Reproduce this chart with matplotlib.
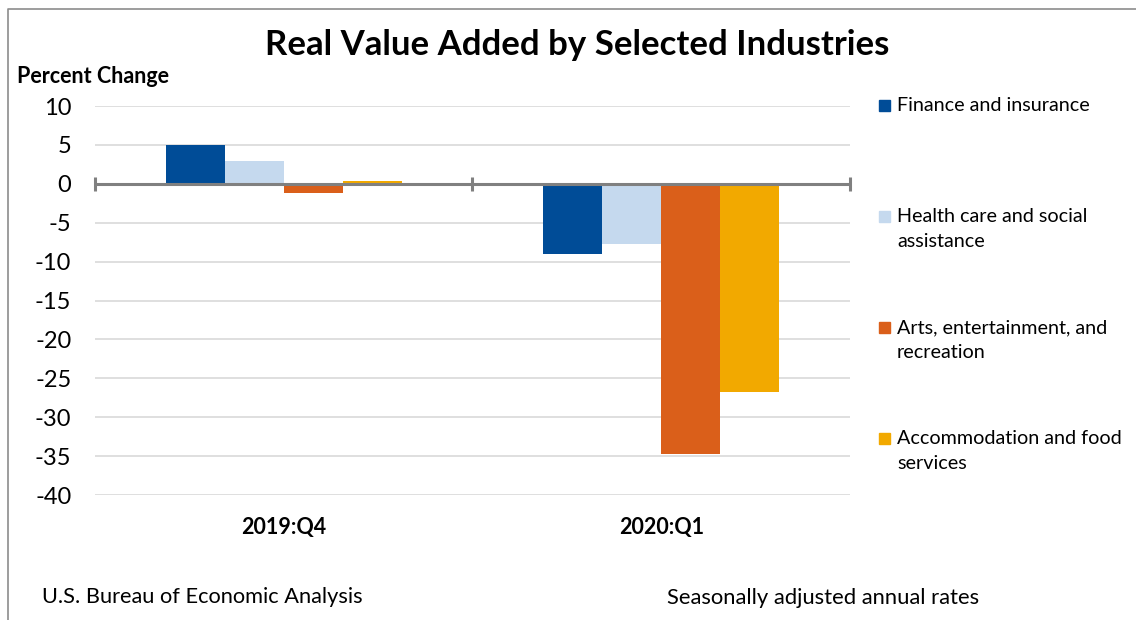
import numpy as np
import matplotlib.pyplot as plt
from matplotlib.patches import Rectangle
from matplotlib.lines import Line2D

plt.rcParams['font.family'] = ['Lato', 'DejaVu Sans']

quarters = ["2019:Q4", "2020:Q1"]
industries = ["Finance and insurance",
              "Health care and social\nassistance",
              "Arts, entertainment, and\nrecreation",
              "Accommodation and food\nservices"]
values = [
    [5.0, -9.0],    # finance
    [2.9, -7.8],    # health
    [-1.2, -34.7],  # arts
    [0.3, -26.7],   # accommodation
]
colors = ["#004C97", "#C5D9EE", "#DA5F1A", "#F2A900"]
yticks = [10, 5, 0, -5, -10, -15, -20, -25, -30, -35, -40]

fig = plt.figure(figsize=(11.36, 6.2), dpi=100)
ax = fig.add_axes([0.0836, 0.2016, 0.6646, 0.6274])

x = np.arange(len(quarters))
w = 0.1565
for i, (vals, c) in enumerate(zip(values, colors)):
    ax.bar(x + (i - 1.5) * w, vals, width=w, color=c, zorder=2)

ax.set_xlim(-0.5, 1.5)
ax.set_ylim(-40, 10)
ax.set_yticks(yticks)
ax.set_yticklabels([str(t) for t in yticks], fontsize=17)
ax.yaxis.grid(True, color="#D9D9D9", linewidth=1.2, zorder=0)
ax.tick_params(axis='y', length=0, pad=17)
ax.set_xticks(x)
ax.set_xticklabels(quarters, fontsize=15.5, fontweight='bold')
ax.tick_params(axis='x', length=0, pad=16)
for s in ax.spines.values():
    s.set_visible(False)

# zero axis line with category tick marks
ax.axhline(0, color="#808080", linewidth=2.2, zorder=3)
ax.vlines([-0.5, 0.5, 1.5], -0.9, 0.9, color="#808080", linewidth=2.2, zorder=3,
          clip_on=False)

fig.text(0.508, 0.927, "Real Value Added by Selected Industries", ha='center', va='center',
         fontsize=25, fontweight='bold')
fig.text(0.015, 0.876, "Percent Change", ha='left', va='center', fontsize=15.5, fontweight='bold')

# legend
leg_y = [105, 216, 327, 438]
for lab, c, yy in zip(industries, colors, leg_y):
    fy = 1 - yy / 620
    fig.patches.append(Rectangle((879 / 1136, fy - 5.5 / 620), 11 / 1136, 11 / 620,
                                 transform=fig.transFigure, color=c))
    fig.text(897 / 1136, fy + 8 / 620, lab, ha='left', va='top', fontsize=14.2,
             linespacing=1.58)

fig.text(42 / 1136, 1 - 597 / 620, "U.S. Bureau of Economic Analysis", ha='left', va='center',
         fontsize=15.7)
fig.text(667 / 1136, 1 - 598 / 620, "Seasonally adjusted annual rates", ha='left', va='center',
         fontsize=15.8)

# chart border
fig.add_artist(Line2D([8 / 1136, 8 / 1136, 1], [0, 1 - 9 / 620, 1 - 9 / 620],
                      transform=fig.transFigure, color="#8C8C8C", linewidth=1.2))

fig.savefig("out.png")
